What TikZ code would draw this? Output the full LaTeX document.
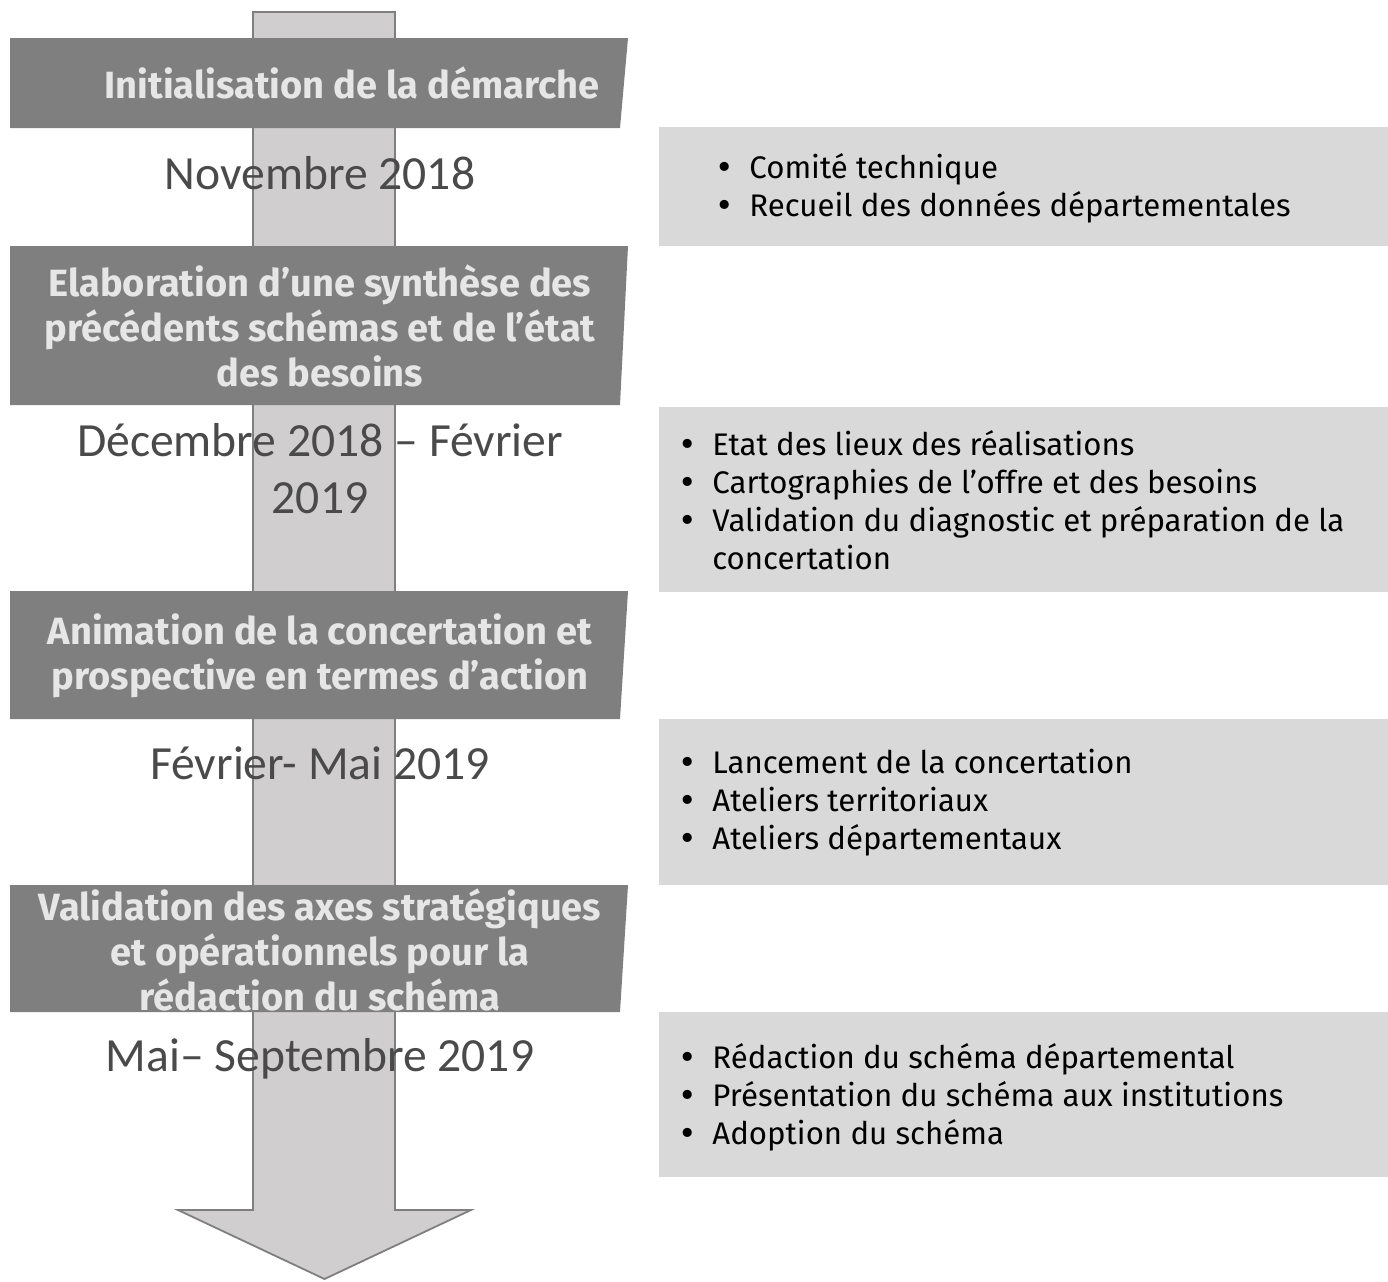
\documentclass[tikz,border=0pt]{standalone}
\usepackage{fontspec}
\setmainfont{Fira Sans}
\newfontfamily\periodfont{Carlito}
\newfontfamily\pucefont{DejaVu Sans}

\definecolor{bannergray}{HTML}{7F7F7F}
\definecolor{bannertext}{HTML}{E7E6E6}
\definecolor{shaftgray}{HTML}{D0CECE}
\definecolor{shaftline}{HTML}{7F7F7F}
\definecolor{boxgray}{HTML}{D9D9D9}
\definecolor{periodtext}{HTML}{4A4A4A}

\newcommand{\puce}{\makebox[17pt][l]{\pucefont\textbullet}}
\newcommand{\sanspuce}{\makebox[17pt][l]{}}

\begin{document}
\begin{tikzpicture}[x=0.5pt, y=-0.5pt,
    title/.style={text=bannertext, align=center, inner sep=0pt,
      font=\bfseries\fontsize{19}{22.5}\selectfont},
    period/.style={text=periodtext, align=center, inner sep=0pt,
      font=\periodfont\fontsize{23.8}{28.5}\selectfont},
    tasks/.style={anchor=west, align=left, inner sep=0pt,
      font=\fontsize{15.6}{19}\selectfont}]

\useasboundingbox (0,0) rectangle (1388,1281);

% big arrow behind everything ---
\filldraw [fill=shaftgray, draw=shaftline, line width=0.9pt, line join=miter]
  (253,12) -- (395,12) -- (395,1210) -- (471,1210) -- (324.5,1279)
  -- (178,1210) -- (253,1210) -- cycle;

% banners ---
\fill [bannergray] (10,38) -- (628,38) -- (620,128) -- (10,128) -- cycle;
\fill [bannergray] (10,246) -- (628,246) -- (620,405) -- (10,405) -- cycle;
\fill [bannergray] (10,591) -- (628,591) -- (620,719) -- (10,719) -- cycle;
\fill [bannergray] (10,885) -- (628,885) -- (620,1012) -- (10,1012) -- cycle;

\node (init) [title] at (352,83) {Initialisation de la démarche};
\node (synth) [title] at (320,326) {Elaboration d’une synthèse des \\ précédents schémas et de l’état \\ des besoins};
\node (anim) [title] at (320,656) {Animation de la concertation et \\ prospective en termes d’action};
\node (valid) [title] at (320,950) {Validation des axes stratégiques \\ et opérationnels pour la \\ rédaction du schéma};

% periods ---
\node (nov) [period] at (320,173) {Novembre 2018};
\node (dec) [period] at (320,469) {Décembre 2018 – Février \\ 2019};
\node (fev) [period] at (320,763) {Février- Mai 2019};
\node (mai) [period] at (320,1059) {Mai– Septembre 2019};

% task boxes ---
\fill [boxgray] (659,127) rectangle (1388,246);
\fill [boxgray] (659,407) rectangle (1388,592);
\fill [boxgray] (659,719) rectangle (1388,885);
\fill [boxgray] (659,1012) rectangle (1388,1177);

\node (list1) [tasks] at (715,188) {\puce Comité technique \\ \puce Recueil des données départementales};
\node (list2) [tasks] at (678,500) {\puce Etat des lieux des réalisations \\ \puce Cartographies de l’offre et des besoins \\ \puce Validation du diagnostic et préparation de la \\ \sanspuce concertation};
\node (list3) [tasks] at (678,803) {\puce Lancement de la concertation \\ \puce Ateliers territoriaux \\ \puce Ateliers départementaux};
\node (list4) [tasks] at (678,1097) {\puce Rédaction du schéma départemental \\ \puce Présentation du schéma aux institutions \\ \puce Adoption du schéma};

\end{tikzpicture}
\end{document}
